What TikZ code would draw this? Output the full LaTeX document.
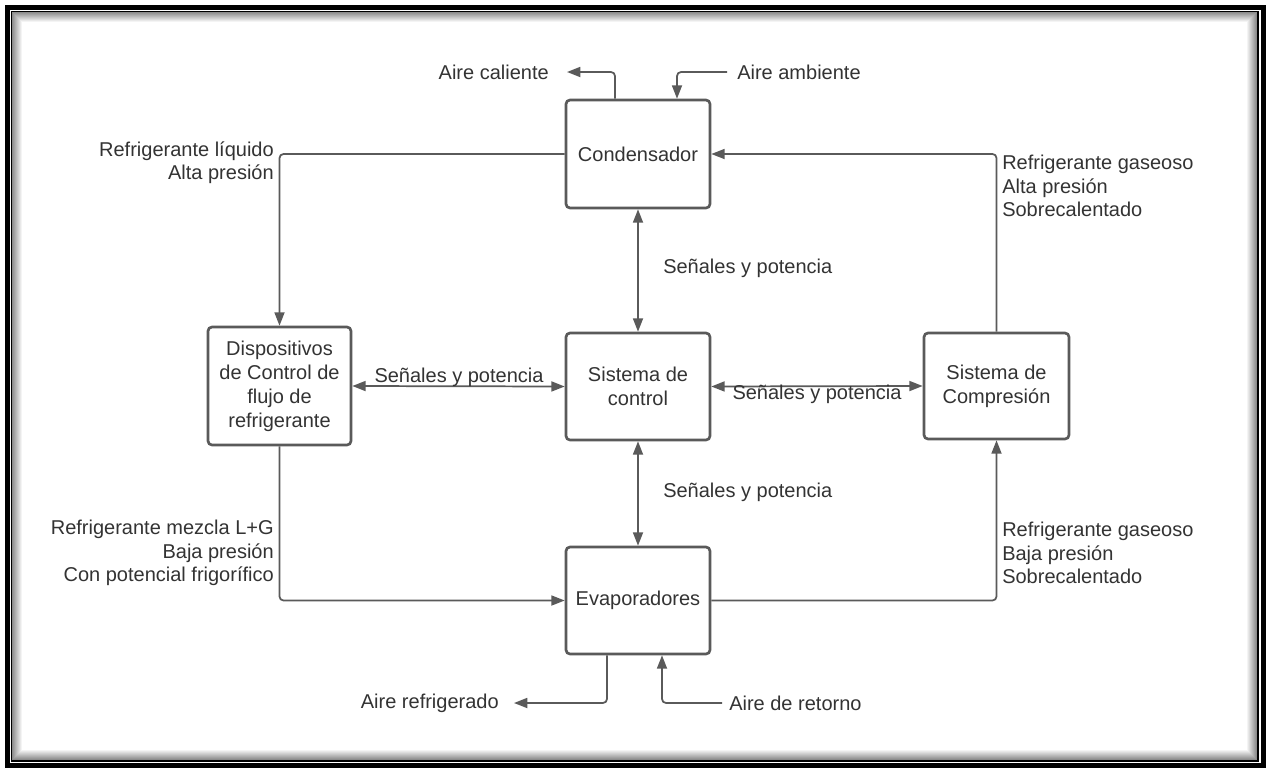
\documentclass[tikz,border=0pt]{standalone}
\usepackage{fontspec}
\setmainfont{Liberation Sans}
\usetikzlibrary{arrows.meta}
\definecolor{ln}{HTML}{5A5A5A}
\definecolor{tx}{HTML}{333333}
\begin{document}
\begin{tikzpicture}[x=0.75pt,y=-0.75pt,
  blk/.style={draw=ln, line width=2pt, rounded corners=3pt, fill=white, text=tx, align=center, inner sep=0pt, font=\fontsize{15}{18}\selectfont},
  conn/.style={draw=ln, line width=1.3pt, rounded corners=3pt, -{Triangle[length=10pt,width=7.5pt]}},
  biconn/.style={draw=ln, line width=1.3pt, {Triangle[length=10pt,width=7.5pt]}-{Triangle[length=10pt,width=7.5pt]}},
  lbl/.style={text=tx, font=\fontsize{15}{17.6}\selectfont, inner sep=0pt}]
\useasboundingbox (0,0) rectangle (1268,768);
% frame
\fill[white] (0,0) rectangle (1268,768);
\foreach \i in {0,...,9} {
  \pgfmathsetmacro{\g}{45-4.5*\i}
  \draw[black!\g, line width=0.8pt] (12.5+\i,12.5+\i) rectangle (1256.5-\i,759.5-\i);
}
\draw[black, line width=3.75pt] (7.5,7.5) rectangle (1263,765.5);
\draw[black, line width=0.9pt] (11.5,11.5) rectangle (1258,761);

% boxes
\node[blk, minimum width=108pt, minimum height=81pt] (cond) at (638,154) {Condensador};
\node[blk, minimum width=107.25pt, minimum height=88.5pt] (disp) at (279.5,386) {Dispositivos\\de Control de\\flujo de\\refrigerante};
\node[blk, minimum width=108pt, minimum height=80.25pt] (ctrl) at (638,386.5) {Sistema de\\control};
\node[blk, minimum width=108.75pt, minimum height=79.5pt] (comp) at (996.5,386) {Sistema de\\Compresión};
\node[blk, minimum width=108pt, minimum height=80.25pt] (evap) at (638,600.5) {Evaporadores};

% main refrigerant loop
\draw[conn] (cond.west) -| (disp.north);
\draw[conn] (comp.north) |- (cond.east);
\draw[conn] (disp.south) |- (evap.west);
\draw[conn] (evap.east) -| (comp.south);

% signals
\draw[biconn] (cond.south) -- (ctrl.north);
\draw[biconn] (ctrl.south) -- (evap.north);
\draw[biconn] (disp.east) -- (ctrl.west);
\draw[biconn] (ctrl.east) -- (comp.west);

% air flows
\coordinate (acx) at (615,72);
\coordinate (act) at (567,72);
\draw[conn] (acx |- cond.north) -- (acx) -- (act);
\coordinate (aas) at (727,72);
\coordinate (aax) at (677,72);
\draw[conn] (aas) -- (aax) -- (aax |- cond.north);
\coordinate (arx) at (607,703);
\coordinate (art) at (514,703);
\draw[conn] (arx |- evap.south) -- (arx) -- (art);
\coordinate (ars) at (722,703);
\coordinate (arx2) at (662,703);
\draw[conn] (ars) -- (arx2) -- (arx2 |- evap.south);

% labels
\node[lbl, anchor=east] (lac) at (549,72) {Aire caliente};
\node[lbl, anchor=west] (laa) at (737,72) {Aire ambiente};
\node[lbl, anchor=east] (lar) at (499,703) {Aire refrigerado};
\node[lbl, anchor=west] (lrt) at (729,703) {Aire de retorno};

\node[lbl, anchor=east, align=right] (lliq) at (274,162.5) {Refrigerante líquido\\Alta presión};
\node[lbl, anchor=west, align=left] (lgas1) at (1002,186) {Refrigerante gaseoso\\Alta presión\\Sobrecalentado};
\node[lbl, anchor=east, align=right] (lmez) at (274,553) {Refrigerante mezcla L+G\\Baja presión\\Con potencial frigorífico};
\node[lbl, anchor=west, align=left] (lgas2) at (1002,553) {Refrigerante gaseoso\\Baja presión\\Sobrecalentado};

\node[lbl, anchor=west] (s1) at (663,268) {Señales y potencia};
\node[lbl, anchor=west] (s2) at (663,492) {Señales y potencia};
\node[lbl] (s3) at (459,377) {Señales y potencia};
\node[lbl] (s4) at (817,394) {Señales y potencia};
\end{tikzpicture}
\end{document}
